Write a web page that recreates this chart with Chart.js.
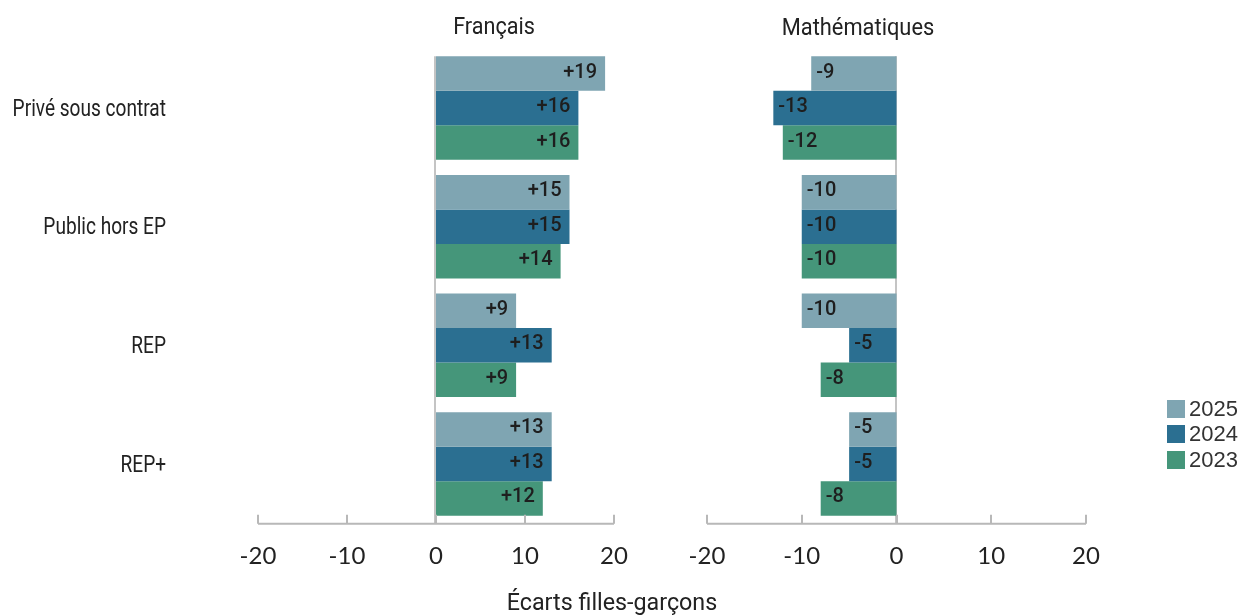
<!DOCTYPE html>
<html lang="fr">
<head>
<meta charset="UTF-8">
<title>Écarts filles-garçons</title>
<script src="https://cdn.jsdelivr.net/npm/chart.js"></script>
<style>
  body { margin: 0; background: #fff; }
  #wrap { position: relative; width: 1240px; height: 616px; overflow: hidden; font-family: Roboto, sans-serif; color: #222; }
  canvas { position: absolute; top: 0; }
  .txt { position: absolute; white-space: nowrap; line-height: 1; transform: translate(-50%, -50%); }
  #legend { position: absolute; left: 1167px; top: 396px; font-family: "Liberation Sans", Arial, sans-serif; font-size: 22px; color: #333; }
  #legend div { display: flex; align-items: center; height: 25.5px; }
  #legend span.box { width: 18px; height: 18px; margin-right: 4px; }
</style>
</head>
<body>
<div id="wrap">
  <canvas id="fr" width="660" height="616" style="left:0"></canvas>
  <canvas id="ma" width="580" height="616" style="left:660px"></canvas>
  <div class="txt" style="left:494px;top:26px;font-size:24px;transform:translate(-50%,-50%) scaleX(0.9)">Français</div>
  <div class="txt" style="left:858px;top:27px;font-size:24px;transform:translate(-50%,-50%) scaleX(0.91)">Mathématiques</div>
  <div class="txt" style="left:612px;top:602px;font-size:24px;transform:translate(-50%,-50%) scaleX(0.97)">Écarts filles-garçons</div>
  <div id="legend"></div>
</div>
<script>
const categories = ['Privé sous contrat', 'Public hors EP', 'REP', 'REP+'];
const years = ['2025', '2024', '2023'];
const colors = ['#7fa5b2', '#2b6f91', '#45967a'];

const francais2025 = [19, 15, 9, 13];
const francais2024 = [16, 15, 13, 13];
const francais2023 = [16, 14, 9, 12];

const maths2025 = [-9, -10, -10, -5];
const maths2024 = [-13, -10, -5, -5];
const maths2023 = [-12, -10, -8, -8];

const xTicks = [-20, -10, 0, 10, 20];

function fmt(v) { return v > 0 ? '+' + v : String(v); }

// axe du bas, ligne du zéro, étiquettes des barres
const panelPlugin = {
  id: 'panel',
  beforeDatasetsDraw(chart) {
    const ctx = chart.ctx, x = chart.scales.x, a = chart.chartArea;
    const first = chart.getDatasetMeta(0).data[0];
    const top = first.y - first.height / 2;
    ctx.save();
    ctx.strokeStyle = '#c4c4c4';
    ctx.lineWidth = 2;
    ctx.beginPath();
    ctx.moveTo(Math.round(x.getPixelForValue(0)) - 1, top);
    ctx.lineTo(Math.round(x.getPixelForValue(0)) - 1, a.bottom);
    ctx.stroke();
    ctx.restore();
  },
  afterDatasetsDraw(chart) {
    const ctx = chart.ctx, x = chart.scales.x, a = chart.chartArea;
    ctx.save();
    const yb = a.bottom + 0.5;
    ctx.strokeStyle = '#b8b8b8';
    ctx.lineWidth = 2;
    ctx.beginPath();
    ctx.moveTo(x.getPixelForValue(-20), yb);
    ctx.lineTo(x.getPixelForValue(20), yb);
    xTicks.forEach(t => {
      const px = Math.round(x.getPixelForValue(t));
      ctx.moveTo(px, yb);
      ctx.lineTo(px, yb - 9);
    });
    ctx.stroke();

    ctx.fillStyle = '#222';
    ctx.font = '24px Lato, sans-serif';
    ctx.textAlign = 'center';
    ctx.textBaseline = 'middle';
    xTicks.forEach(t => ctx.fillText(String(t), x.getPixelForValue(t), 556));

    ctx.font = '500 20px Roboto, sans-serif';
    ctx.fillStyle = '#1e1e1e';
    chart.data.datasets.forEach((ds, di) => {
      chart.getDatasetMeta(di).data.forEach((bar, i) => {
        const v = ds.data[i];
        if (v >= 0) {
          ctx.textAlign = 'right';
          ctx.fillText(fmt(v), bar.x - 8, bar.y - 1);
        } else {
          ctx.textAlign = 'left';
          ctx.fillText(fmt(v), bar.x + 5, bar.y - 1);
        }
      });
    });

    if (chart.options.plugins.panel && chart.options.plugins.panel.categoryLabels) {
      const y = chart.scales.y;
      ctx.font = '23px Roboto, sans-serif';
      ctx.fillStyle = '#222';
      ctx.textAlign = 'right';
      categories.forEach((c, i) => {
        ctx.save();
        ctx.translate(166, y.getPixelForValue(i) + 2);
        ctx.scale(0.83, 1);
        ctx.fillText(c, 0, 0);
        ctx.restore();
      });
    }
    ctx.restore();
  }
};

function makeChart(id, series, padLeft, padRight, withLabels) {
  return new Chart(document.getElementById(id), {
    type: 'bar',
    data: {
      labels: categories,
      datasets: years.map((y, i) => ({
        label: y,
        data: series[i],
        backgroundColor: colors[i],
        borderWidth: 0,
        categoryPercentage: 0.872,
        barPercentage: 1
      }))
    },
    options: {
      indexAxis: 'y',
      responsive: false,
      animation: false,
      layout: { padding: { left: padLeft, right: padRight, top: 48.7, bottom: 92.7 } },
      scales: {
        x: { min: -20, max: 20, display: false },
        y: { display: false }
      },
      plugins: {
        legend: { display: false },
        tooltip: { enabled: false },
        panel: { categoryLabels: withLabels }
      }
    },
    plugins: [panelPlugin]
  });
}

makeChart('fr', [francais2025, francais2024, francais2023], 258, 46, true);
makeChart('ma', [maths2025, maths2024, maths2023], 47, 154, false);

const legend = document.getElementById('legend');
years.forEach((y, i) => {
  const row = document.createElement('div');
  row.innerHTML = '<span class="box" style="background:' + colors[i] + '"></span>' + y;
  legend.appendChild(row);
});
</script>
</body>
</html>
